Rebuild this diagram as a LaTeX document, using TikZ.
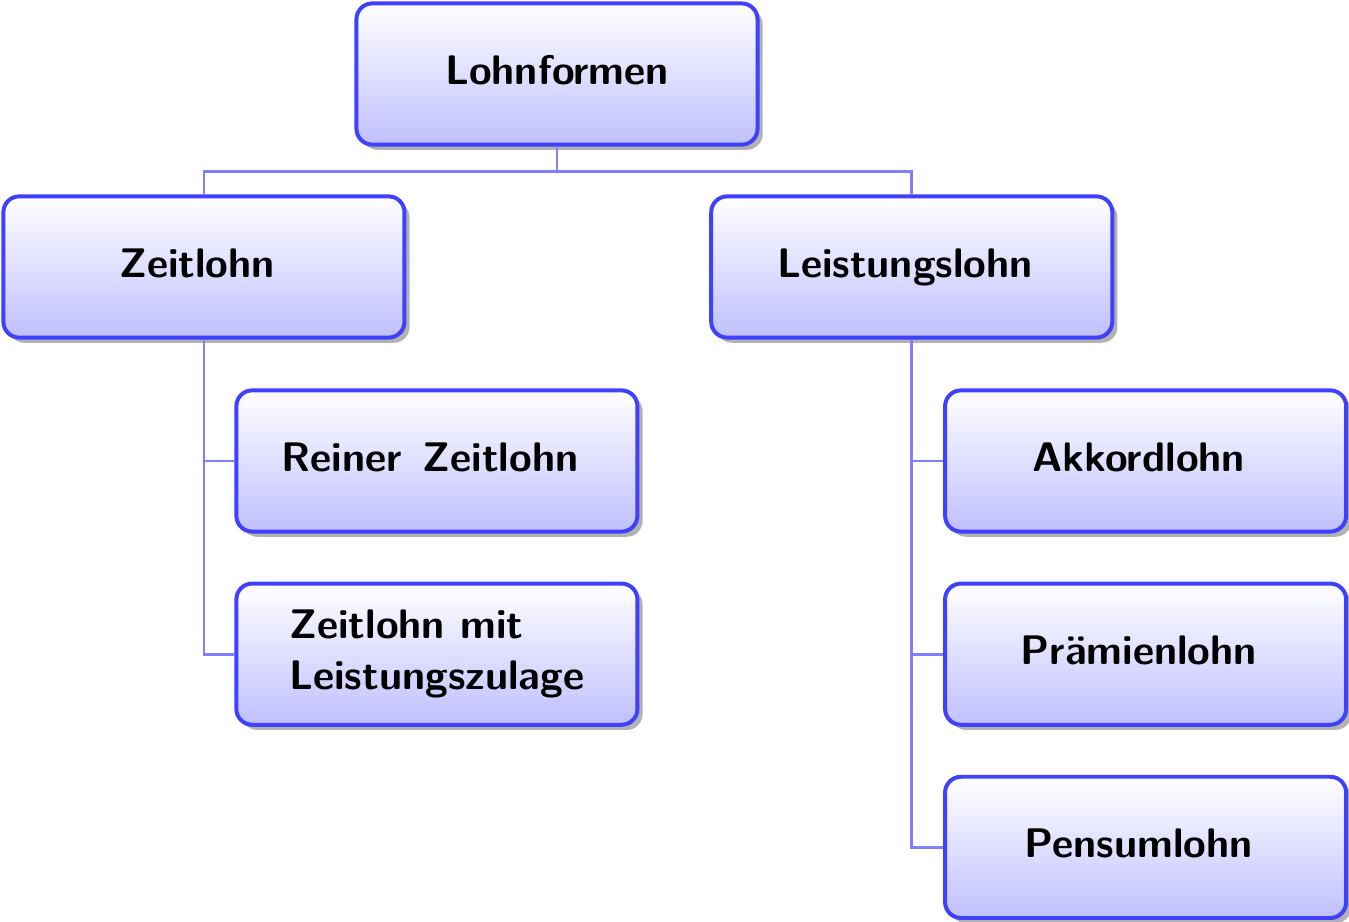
\documentclass[tikz,border=0pt]{standalone}
\usepackage{tikz}
\usetikzlibrary{shadows}

\begin{document}
\begin{tikzpicture}[
    lohnbox/.style={draw=blue!75, line width=1pt, rounded corners=4pt,
        top color=white, bottom color=blue!25,
        drop shadow={shadow xshift=1.3pt, shadow yshift=-1.3pt, fill=black!30, opacity=1},
        minimum width=3.55cm, minimum height=1.25cm,
        text height=7pt, text depth=1.8pt,
        font=\sffamily\bfseries\fontsize{10.4}{12.8}\selectfont, align=center},
    kindbox/.style={lohnbox, execute at begin node={\hspace*{-1.2mm}}},
    conn/.style={draw=blue!50, line width=0.7pt}
]
    \useasboundingbox (0,0) rectangle (11.94,-8.16);

    % --- Wurzel ---
    \node[lohnbox] (lohn) at (4.93,-0.655) {Lohnformen};

    % --- Zeitlohn ---
    \node[kindbox] (zeit)   at (1.805,-2.363) {Zeitlohn};
    \node[kindbox] (reiner) at (3.867,-4.08) {Reiner\hspace{0.5em}Zeitlohn};
    \node[lohnbox, align=left, text height={}, text depth={}] (zmit) at (3.867,-5.79)
        {Zeitlohn mit\\Leistungszulage};

    % --- Leistungslohn ---
    \node[kindbox] (leist)  at (8.07,-2.363) {Leistungslohn};
    \node[kindbox] (akkord) at (10.14,-4.08) {Akkordlohn};
    \node[kindbox] (praem)  at (10.14,-5.79) {Prämienlohn};
    \node[kindbox] (pensum) at (10.14,-7.50) {Pensumlohn};

    % --- Verbindungen ---
    \draw[conn] (lohn.south) -- ++(0,-0.22) -| (zeit.north);
    \draw[conn] (lohn.south) -- ++(0,-0.22) -| (leist.north);
    \foreach \k in {reiner,zmit} {
        \draw[conn] (zeit.south) |- (\k.west);
    }
    \foreach \k in {akkord,praem,pensum} {
        \draw[conn] (leist.south) |- (\k.west);
    }
\end{tikzpicture}
\end{document}
